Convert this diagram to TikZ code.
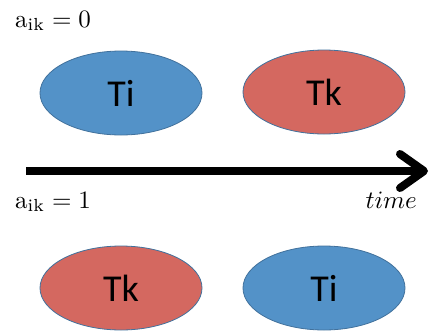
\documentclass[tikz,border=0pt]{standalone}
\usepackage{fontspec}
\newfontfamily\calibri{Carlito}
\usetikzlibrary{arrows.meta,shapes.geometric}
\definecolor{tblue}{RGB}{83,146,200}
\definecolor{tred}{RGB}{212,104,96}
\definecolor{tedge}{RGB}{65,113,156}
\newcommand{\biglab}[1]{\scalebox{2.5}{#1}}
\begin{document}
\begin{tikzpicture}[x=1pt,y=-1pt,
  task/.style={ellipse,draw=tedge,line width=0.8pt,minimum width=162pt,minimum height=84pt,inner sep=0pt,font=\calibri\fontsize{38}{44}\selectfont},
  ti/.style={task,fill=tblue},
  tk/.style={task,fill=tred},
  lab/.style={inner sep=0pt}]
\useasboundingbox (0,0) rectangle (429,333);
\node[ti] (top1) at (121,93) {Ti};
\node[tk] (top2) at (324,92) {Tk};
\node[tk] (bot1) at (121,288) {Tk};
\node[ti] (bot2) at (324,288) {Ti};
\node[lab,anchor=base west] (a0) at (15,27) {\biglab{$\mathrm{a}_{\mathrm{ik}}=0$}};
\node[lab,anchor=base west] (a1) at (15,208) {\biglab{$\mathrm{a}_{\mathrm{ik}}=1$}};
\node[lab,anchor=base east] (t) at (417,208) {\biglab{$time$}};
\coordinate (s) at (26,171);
\coordinate (e) at (428,171);
\draw[line width=8pt,-{Straight Barb[length=24pt,width=34pt,round]}] (s) -- (e);
\end{tikzpicture}
\end{document}
